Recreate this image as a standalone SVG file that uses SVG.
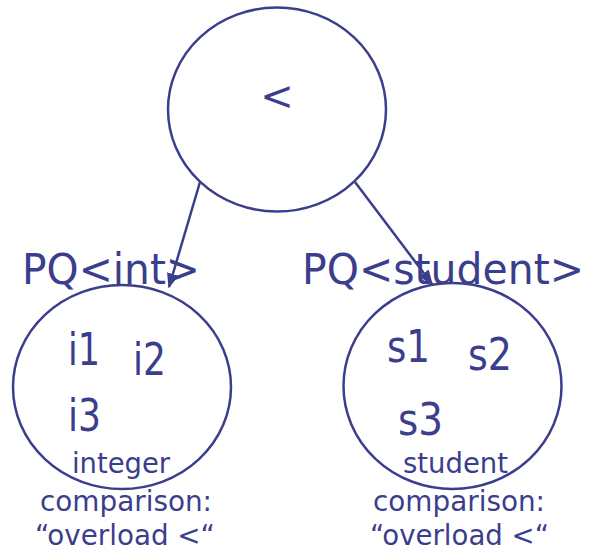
<svg xmlns="http://www.w3.org/2000/svg" width="596" height="553" viewBox="0 0 596 553">
<defs>
<style>
.n{fill:none;stroke:#3b3e8c;stroke-width:2.5}
.t{fill:#3b3e8c;font-family:"DejaVu Sans",Verdana,sans-serif}
.big{font-size:44px}
.pq{font-size:42px}
.sm{font-size:29px}
.c{stroke:#3b3e8c;stroke-width:2.5;fill:none}
</style>
<marker id="ah" viewBox="0 0 10 10" refX="9" refY="5" markerWidth="6" markerHeight="6" orient="auto" markerUnits="strokeWidth">
<path d="M0,1 L10,5 L0,9 z" fill="#3b3e8c"/>
</marker>
</defs>
<rect width="596" height="553" fill="#fff"/>
<g id="root">
<ellipse class="n" cx="277" cy="109.5" rx="109" ry="102"/>
<text class="t" x="277" y="110" font-size="40" text-anchor="middle">&lt;</text>
</g>
<g id="pq-int">
<ellipse class="n" cx="122" cy="387" rx="109" ry="102"/>
<text class="t pq" x="22" y="284" textLength="178" lengthAdjust="spacingAndGlyphs">PQ&lt;int&gt;</text>
<text class="t big" x="68" y="365" textLength="32" lengthAdjust="spacingAndGlyphs">i1</text>
<text class="t big" x="133" y="375" textLength="33" lengthAdjust="spacingAndGlyphs">i2</text>
<text class="t big" x="68" y="431" textLength="33" lengthAdjust="spacingAndGlyphs">i3</text>
<text class="t sm" x="72" y="473" textLength="98" lengthAdjust="spacingAndGlyphs">integer</text>
<text class="t sm" x="40" y="511" textLength="172" lengthAdjust="spacingAndGlyphs">comparison:</text>
<text class="t sm" x="35" y="545" textLength="180" lengthAdjust="spacingAndGlyphs">“overload &lt;“</text>
</g>
<g id="pq-student">
<ellipse class="n" cx="452.5" cy="386" rx="109" ry="103"/>
<text class="t pq" x="302" y="284" textLength="282" lengthAdjust="spacingAndGlyphs">PQ&lt;student&gt;</text>
<text class="t big" x="387" y="362" textLength="43" lengthAdjust="spacingAndGlyphs">s1</text>
<text class="t big" x="468" y="370" textLength="44" lengthAdjust="spacingAndGlyphs">s2</text>
<text class="t big" x="398" y="435" textLength="45" lengthAdjust="spacingAndGlyphs">s3</text>
<text class="t sm" x="403" y="473" textLength="105" lengthAdjust="spacingAndGlyphs">student</text>
<text class="t sm" x="373" y="511" textLength="172" lengthAdjust="spacingAndGlyphs">comparison:</text>
<text class="t sm" x="370" y="545" textLength="179" lengthAdjust="spacingAndGlyphs">“overload &lt;“</text>
</g>
<g id="connectors">
<line class="c" x1="200" y1="182" x2="169" y2="287" marker-end="url(#ah)"/>
<line class="c" x1="355" y1="182" x2="432" y2="284" marker-end="url(#ah)"/>
</g>
</svg>
